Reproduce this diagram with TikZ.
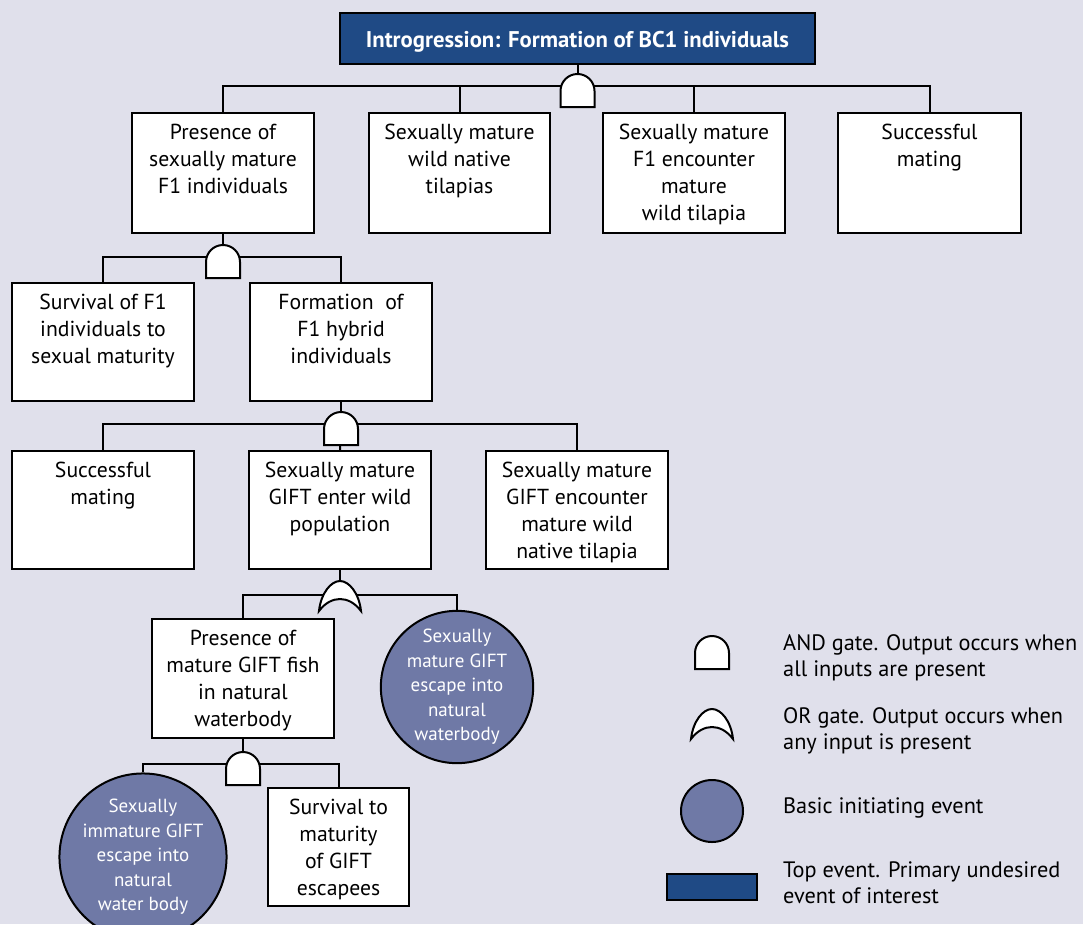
\documentclass[tikz,border=0pt]{standalone}
\usepackage{fontspec}
\setmainfont{PT Sans}
\definecolor{bgc}{RGB}{224,224,235}
\definecolor{topc}{RGB}{31,74,133}
\definecolor{basec}{RGB}{111,121,166}
\newcommand\evt[3]{\parbox[c][#2pt][t]{#1pt}{\centering\rule{0pt}{26pt}#3}}
\tikzset{
  x=1pt,y=1pt,
  ev/.style={draw=black, line width=2pt, fill=white, inner sep=0pt, anchor=north west,
    font=\fontsize{21.7}{27.3}\selectfont},
  topev/.style={draw=black, line width=2pt, fill=topc, inner sep=0pt, text=white,
    minimum width=475pt, minimum height=51pt, font=\fontsize{22.7}{26}\selectfont\bfseries},
  basic/.style={circle, draw=black, line width=2pt, fill=basec, inner sep=0pt, text=white,
    align=center, font=\fontsize{19}{24.5}\selectfont},
  conn/.style={draw=black, line width=2pt},
  legtxt/.style={anchor=west, align=left, inner sep=0pt, font=\fontsize{22.3}{26}\selectfont},
  andgate/.pic={\draw[line width=2pt, fill=white] (-17,-21) -- (-17,-5) arc[start angle=180, end angle=0, radius=17] -- (17,-21) -- cycle;},
  orgate/.pic={\draw[line width=2pt, fill=white, line join=miter] (-21,-16) .. controls (-19,2) and (-9,14) .. (0,14) .. controls (9,14) and (19,2) .. (21,-16) .. controls (9,0) and (-9,0) .. (-21,-16) -- cycle;}
}
\begin{document}
\begin{tikzpicture}
\fill[bgc] (0,0) rectangle (1083,-924);
\useasboundingbox (0,0) rectangle (1083,-924);

% top event
\node[topev] (top) at (577.5,-38.5) {\raisebox{-3pt}[\height][\depth]{Introgression: Formation of BC1 individuals}};

% row 1
\node[ev] (b1) at (131,-112) {\evt{182}{120}{Presence of\\sexually mature\\F1 individuals}};
\node[ev] (b2) at (368,-112) {\evt{181}{120}{Sexually mature\\wild native\\tilapias}};
\node[ev] (b3) at (602,-112) {\evt{182}{120}{Sexually mature\\F1 encounter\\mature\\wild tilapia}};
\node[ev] (b4) at (837,-112) {\evt{183}{120}{Successful\\mating}};
% row 2
\node[ev] (c1) at (11,-282) {\evt{182}{118}{Survival of F1\\individuals to\\sexual maturity}};
\node[ev] (c2) at (249,-282) {\evt{182}{118}{Formation\ \ of\\F1 hybrid\\individuals}};
% row 3
\node[ev] (d1) at (11,-450) {\evt{182}{118}{Successful\\mating}};
\node[ev] (d2) at (248,-450) {\evt{182}{118}{Sexually mature\\GIFT enter wild\\population}};
\node[ev] (d3) at (485,-450) {\evt{182}{118}{Sexually mature\\GIFT encounter\\mature wild\\native tilapia}};
% row 4
\node[ev] (e1) at (151,-618) {\evt{182}{119}{Presence of\\mature GIFT fish\\in natural\\waterbody}};
\node[basic, minimum size=146pt] (e2) at (457,-687) {Sexually\\mature GIFT\\escape into\\natural\\waterbody};
% row 5
\node[basic, minimum size=148pt] (f1) at (143,-857) {Sexually\\immature GIFT\\escape into\\natural\\water body};
\node[ev] (f2) at (267,-787) {\evt{141}{118}{Survival to\\maturity\\of GIFT\\escapees}};

% junctions
\coordinate (j1) at (top.south |- 0,-86);
\coordinate (j2) at (b1.south |- 0,-257);
\coordinate (j3) at (c2.south |- 0,-424);
\coordinate (j4) at (d2.south |- 0,-595);
\coordinate (j5) at (e1.south |- 0,-764);

% connectors
\draw[conn] (top.south) -- (j1);
\draw[conn] (b1.north) |- (j1) -| (b4.north);
\draw[conn] (b2.north) |- (j1);
\draw[conn] (b3.north) |- (j1);

\draw[conn] (b1.south) -- (j2);
\draw[conn] (c1.north) |- (j2) -| (c2.north);

\draw[conn] (c2.south) -- (j3);
\draw[conn] (d1.north) |- (j3) -| (d3.north);
\draw[conn] (d2.north) -- (j3);

\draw[conn] (d2.south) -- (j4);
\draw[conn] (e1.north) |- (j4) -| (e2.north);

\draw[conn] (e1.south) -- (j5);
\draw[conn] (f1.north) |- (j5) -| (f2.north);

% gates
\pic at (j1) {andgate};
\pic at (j2) {andgate};
\pic at (j3) {andgate};
\pic at (j4) {orgate};
\pic at (j5) {andgate};

% legend
\pic at (712,-648) {andgate};
\node[legtxt] (l1) at (783,-658) {AND gate. Output occurs when\\all inputs are present};
\pic at (712,-723) {orgate};
\node[legtxt] (l2) at (783,-731) {OR gate. Output occurs when\\any input is present};
\node[basic, minimum size=62pt] (lc) at (712,-811) {};
\node[legtxt] (l3) at (783,-808) {Basic initiating event};
\node[draw=black, line width=2pt, fill=topc, minimum width=90pt, minimum height=26pt, inner sep=0pt] (lr) at (712,-887) {};
\node[legtxt] (l4) at (783,-883) {Top event. Primary undesired\\event of interest};
\end{tikzpicture}
\end{document}
